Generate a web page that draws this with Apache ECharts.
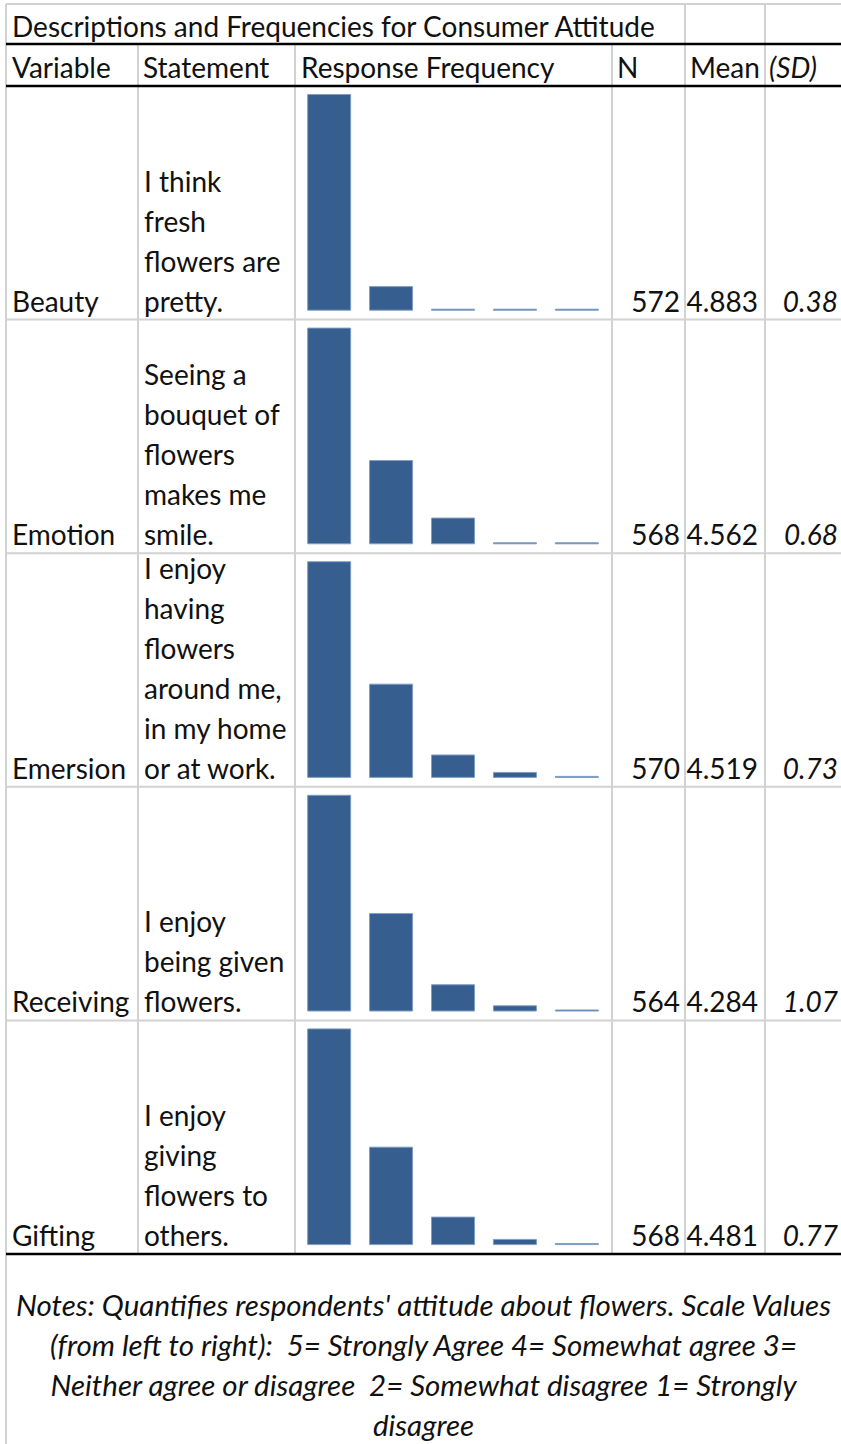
<!DOCTYPE html>
<html>
<head>
<meta charset="utf-8">
<title>Descriptions and Frequencies for Consumer Attitude</title>
<script src="https://cdn.jsdelivr.net/npm/echarts@6/dist/echarts.min.js"></script>
<style>
  html, body { margin: 0; padding: 0; background: #ffffff; }
  #chart { width: 841px; height: 1444px; }
</style>
</head>
<body>
<div id="chart"></div>
<script>
// ---- table content ----
const tableTitle = 'Descriptions and Frequencies for Consumer Attitude';
const headerLabels = ['Variable', 'Statement', 'Response Frequency', 'N', 'Mean', '(SD)'];
const variables = ['Beauty', 'Emotion', 'Emersion', 'Receiving', 'Gifting'];
const statements = [
  ['I think', 'fresh', 'flowers are', 'pretty.'],
  ['Seeing a', 'bouquet of', 'flowers', 'makes me', 'smile.'],
  ['I enjoy', 'having', 'flowers', 'around me,', 'in my home', 'or at work.'],
  ['I enjoy', 'being given', 'flowers.'],
  ['I enjoy', 'giving', 'flowers to', 'others.']
];
const nValues = ['572', '568', '570', '564', '568'];
const meanValues = ['4.883', '4.562', '4.519', '4.284', '4.481'];
const sdValues = ['0.38', '0.68', '0.73', '1.07', '0.77'];

// response scale, left to right
const scaleLevels = ['5', '4', '3', '2', '1'];

// response counts per statement (5 = Strongly Agree ... 1 = Strongly disagree)
const beautyCounts = [511, 58, 1, 1, 1];
const emotionCounts = [373, 145, 46, 2, 2];
const emersionCounts = [361, 157, 39, 10, 3];
const receivingCounts = [350, 159, 44, 10, 1];
const giftingCounts = [350, 159, 46, 10, 3];
const rowCounts = [beautyCounts, emotionCounts, emersionCounts, receivingCounts, giftingCounts];

const noteLines = [
  "Notes: Quantifies respondents' attitude about flowers. Scale Values",
  '(from left to right):  5= Strongly Agree 4= Somewhat agree 3=',
  'Neither agree or disagree  2= Somewhat disagree 1= Strongly',
  'disagree'
];

// ---- layout ----
const FONT_FAMILY = 'Lato, "Open Sans", sans-serif';
const TEXT_COLOR = '#111111';
const GRID_GREY = '#d2d2d2';
const BAR_COLOR = '#365f8f';
const BAR_EDGE = '#7f9dc5';

// size the type so the title spans its cell like a spreadsheet's default font
const measureCtx = document.createElement('canvas').getContext('2d');
measureCtx.font = '100px Lato';
const FONT_SIZE = Math.min(28, 100 * 646 / measureCtx.measureText(tableTitle).width);
// the italic note runs nearly the full page width
measureCtx.font = 'italic 100px Lato';
const NOTE_FONT_SIZE = Math.min(30, 100 * 816 / measureCtx.measureText(noteLines[0]).width);
const LINE_H = 40;

const W = 841;
const titleTop = 4, headTop = 44, bodyTop = 86, bodyBottom = 1254;
const rowH = (bodyBottom - bodyTop) / variables.length;
const colX = { left: 6, stmt: 138, resp: 295, n: 612, mean: 685, sd: 765 };

const graphics = [];

function addText(str, x, baseline, opts) {
  opts = opts || {};
  const size = opts.size || FONT_SIZE;
  const italic = opts.italic ? 'italic ' : '';
  // bottom-anchored line box; shift so the alphabetic baseline lands on `baseline`
  const y = baseline + LINE_H / 2 - 0.36 * size;
  graphics.push({
    type: 'text',
    x: x,
    y: y,
    silent: true,
    style: {
      text: str,
      fill: TEXT_COLOR,
      font: italic + size.toFixed(2) + 'px ' + FONT_FAMILY,
      textAlign: opts.align || 'left',
      textVerticalAlign: 'bottom',
      lineHeight: LINE_H
    }
  });
}

function addLine(x1, y1, x2, y2, color, width) {
  graphics.push({
    type: 'line',
    silent: true,
    shape: { x1: x1, y1: y1, x2: x2, y2: y2 },
    style: { stroke: color, lineWidth: width }
  });
}

// grey cell borders
addLine(colX.left, titleTop, W, titleTop, GRID_GREY, 2);
addLine(colX.left, titleTop, colX.left, 1444, GRID_GREY, 2);
[colX.mean, colX.sd].forEach(function (x) { addLine(x, titleTop, x, bodyBottom, GRID_GREY, 2); });
[colX.stmt, colX.resp, colX.n].forEach(function (x) { addLine(x, headTop, x, bodyBottom, GRID_GREY, 2); });
for (let i = 1; i < variables.length; i++) {
  const y = bodyTop + i * rowH;
  addLine(colX.left, y, W, y, GRID_GREY, 2);
}
// black rules
[headTop, bodyTop, bodyBottom].forEach(function (y) { addLine(colX.left, y, W, y, '#000000', 2.5); });

// title and headers
addText(tableTitle, 12, 36);
const headerX = [12, 143, 301, 617, 690, 769];
headerLabels.forEach(function (label, i) {
  addText(label, headerX[i], 77, { italic: i === 5 });
});

// body rows
variables.forEach(function (name, i) {
  const baseline = bodyTop + (i + 1) * rowH - 9;
  addText(name, 12, baseline);
  addText(statements[i].join('\n'), 144, baseline);
  addText(nValues[i], 680, baseline, { align: 'right' });
  addText(meanValues[i], 758, baseline, { align: 'right' });
  addText(sdValues[i], 838, baseline, { align: 'right', italic: true });
});

// notes
noteLines.forEach(function (line, i) {
  addText(line, 423.5, 1315 + i * LINE_H, { align: 'center', italic: true, size: NOTE_FONT_SIZE });
});

// ---- one small bar chart per row ----
const grids = [], xAxes = [], yAxes = [], series = [];
rowCounts.forEach(function (counts, i) {
  const rowTop = bodyTop + i * rowH;
  grids.push({ left: 298.2, width: 309.6, top: rowTop + 8, height: 216.7 });
  xAxes.push({
    type: 'category', gridIndex: i, data: scaleLevels,
    show: false, boundaryGap: true
  });
  yAxes.push({
    type: 'value', gridIndex: i, min: 0, max: 'dataMax',
    show: false, splitLine: { show: false }
  });
  series.push({
    type: 'bar', name: variables[i],
    xAxisIndex: i, yAxisIndex: i,
    data: counts,
    barWidth: 44,
    barMinHeight: 2,
    silent: true,
    animation: false,
    itemStyle: { color: BAR_COLOR, borderColor: BAR_EDGE, borderWidth: 1 }
  });
});

const chart = echarts.init(document.getElementById('chart'), null, { renderer: 'svg' });
chart.setOption({
  backgroundColor: '#ffffff',
  animation: false,
  grid: grids,
  xAxis: xAxes,
  yAxis: yAxes,
  series: series,
  graphic: { elements: graphics }
});
</script>
</body>
</html>
